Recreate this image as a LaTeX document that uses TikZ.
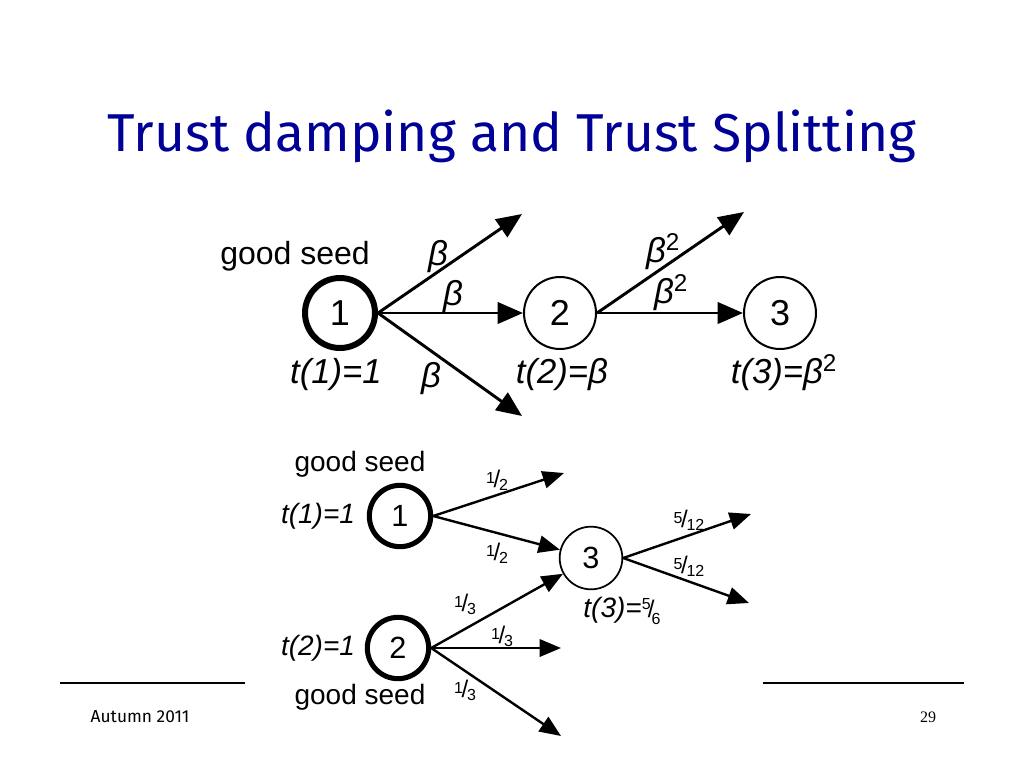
\documentclass[tikz,border=0pt]{standalone}
\usepackage{fontspec}
\setmainfont{Liberation Sans}
\newfontfamily\titlefont{Fira Sans}
\newfontfamily\pagefont{Liberation Serif}
\usetikzlibrary{arrows.meta,positioning}
\definecolor{titleblue}{RGB}{0,0,150}
% slashed fraction
\newcommand{\slfrac}[2]{\raisebox{0.55ex}{\fontsize{12}{12}\selectfont #1}\kern-0.1em{\fontsize{18}{18}\selectfont /}\kern-0.1em\raisebox{-0.45ex}{\fontsize{12}{12}\selectfont #2}}
\tikzset{
  seedbig/.style={circle,draw,line width=4.5pt,minimum size=52.5pt,inner sep=0pt,font=\fontsize{27}{27}\selectfont},
  nodebig/.style={circle,draw,line width=1.5pt,minimum size=54pt,inner sep=0pt,font=\fontsize{27}{27}\selectfont},
  seedsmall/.style={circle,draw,line width=3.8pt,minimum size=46pt,inner sep=0pt,font=\fontsize{23}{23}\selectfont},
  nodesmall/.style={circle,draw,line width=1.3pt,minimum size=47pt,inner sep=0pt,font=\fontsize{23}{23}\selectfont},
  edgebig/.style={-{Triangle[length=19pt,width=16pt]},line width=2.2pt},
  edgesmall/.style={-{Triangle[length=16pt,width=13pt]},line width=1.8pt},
  lblbig/.style={font=\fontsize{26}{26}\selectfont\itshape},
  lblsmall/.style={font=\fontsize{21}{21}\selectfont\itshape},
}
\begin{document}
\begin{tikzpicture}[x=0.75pt,y=-0.75pt]
\useasboundingbox (0,0) rectangle (1024,768);
\fill[white] (0,0) rectangle (1024,768);

% Title
\node[font=\titlefont\fontsize{40}{40}\selectfont,text=titleblue] (title) at (512,136) {Trust damping and Trust Splitting};

% Trust damping
\node[seedbig] (a1) at (340,313) {1};
\node[nodebig] (a2) at (560,313) {2};
\node[nodebig] (a3) at (780,313) {3};
\coordinate (a1up) at (522,214);
\coordinate (a1down) at (522,416);
\coordinate (a2up) at (744,212);
\draw[edgebig] (a1.east) -- (a1up);
\draw[edgebig] (a1.east) -- (a2);
\draw[edgebig] (a1.east) -- (a1down);
\draw[edgebig] (a2.east) -- (a2up);
\draw[edgebig] (a2.east) -- (a3);
\node[font=\fontsize{24}{24}\selectfont] (a1seed) at (295,256) {good seed};
\node[lblbig] (a1t) at (336,375) {t(1)=1};
\node[lblbig] (a2t) at (562,375) {t(2)=β};
\node[lblbig] (a3t) at (784,373) {t(3)=β\textsuperscript{\upshape 2}};
\node[lblbig] (b1) at (438,257) {β};
\node[lblbig] (b2) at (453,297) {β};
\node[lblbig] (b3) at (431,379) {β};
\node[lblbig] (b4) at (663,252) {β\textsuperscript{\upshape 2}};
\node[lblbig] (b5) at (671,293) {β\textsuperscript{\upshape 2}};

% Trust splitting
\node[seedsmall] (s1) at (400,516) {1};
\node[seedsmall] (s2) at (398,648) {2};
\node[nodesmall] (s3) at (591,558) {3};
\coordinate (s1up) at (564,473);
\coordinate (s2mid) at (561,648);
\coordinate (s2down) at (561,736);
\coordinate (s3up) at (751,514);
\coordinate (s3down) at (749,603);
\draw[edgesmall] (s1.east) -- (s1up);
\draw[edgesmall] (s1.east) -- (s3);
\draw[edgesmall] (s2.east) -- (s3);
\draw[edgesmall] (s2.east) -- (s2mid);
\draw[edgesmall] (s2.east) -- (s2down);
\draw[edgesmall] (s3.east) -- (s3up);
\draw[edgesmall] (s3.east) -- (s3down);
\node[font=\fontsize{21}{21}\selectfont] (s1seed) at (360,464) {good seed};
\node[font=\fontsize{21}{21}\selectfont] (s2seed) at (360,697) {good seed};
\node[lblsmall] (s1t) at (318,516) {t(1)=1};
\node[lblsmall] (s2t) at (318,648) {t(2)=1};
\node[lblsmall] (s3t) at (622,611) {t(3)=\upshape\slfrac{5}{6}};
\node (f1) at (497,480) {\slfrac{1}{2}};
\node (f2) at (497,553) {\slfrac{1}{2}};
\node (f3) at (465,604) {\slfrac{1}{3}};
\node (f4) at (502,636) {\slfrac{1}{3}};
\node (f5) at (465,690) {\slfrac{1}{3}};
\node (f6) at (689,520) {\slfrac{5}{12}};
\node (f7) at (689,566) {\slfrac{5}{12}};

% Footer
\draw[line width=0.9pt] (60,683) -- (245,683);
\draw[line width=0.9pt] (763,683) -- (964,683);
\node[font=\titlefont\fontsize{13}{13}\selectfont] (date) at (140,717) {Autumn 2011};
\node[font=\pagefont\fontsize{12}{12}\selectfont] (page) at (928,717) {29};
\end{tikzpicture}
\end{document}
